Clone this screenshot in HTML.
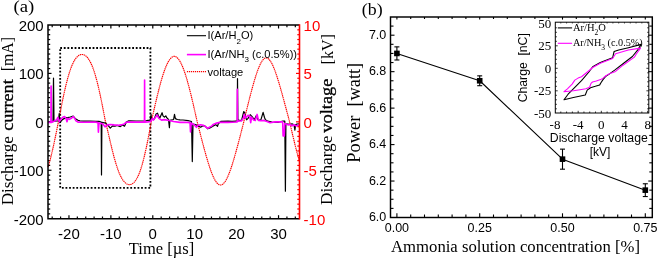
<!DOCTYPE html>
<html><head><meta charset="utf-8"><style>
html,body{margin:0;padding:0;background:#fff;overflow:hidden;}
svg{display:block;will-change:transform;}
</style></head><body>
<svg width="660" height="261" viewBox="0 0 660 261">
<rect width="660" height="261" fill="#fff"/>
<line x1="52.19" y1="218.7" x2="52.19" y2="216.5" stroke="#000" stroke-width="1.2" />
<line x1="52.19" y1="25" x2="52.19" y2="27.2" stroke="#000" stroke-width="1.2" />
<line x1="60.58" y1="218.7" x2="60.58" y2="216.5" stroke="#000" stroke-width="1.2" />
<line x1="60.58" y1="25" x2="60.58" y2="27.2" stroke="#000" stroke-width="1.2" />
<line x1="68.96" y1="218.7" x2="68.96" y2="215.2" stroke="#000" stroke-width="1.2" />
<line x1="68.96" y1="25" x2="68.96" y2="28.5" stroke="#000" stroke-width="1.2" />
<line x1="77.34" y1="218.7" x2="77.34" y2="216.5" stroke="#000" stroke-width="1.2" />
<line x1="77.34" y1="25" x2="77.34" y2="27.2" stroke="#000" stroke-width="1.2" />
<line x1="85.72" y1="218.7" x2="85.72" y2="216.5" stroke="#000" stroke-width="1.2" />
<line x1="85.72" y1="25" x2="85.72" y2="27.2" stroke="#000" stroke-width="1.2" />
<line x1="94.11" y1="218.7" x2="94.11" y2="216.5" stroke="#000" stroke-width="1.2" />
<line x1="94.11" y1="25" x2="94.11" y2="27.2" stroke="#000" stroke-width="1.2" />
<line x1="102.49" y1="218.7" x2="102.49" y2="216.5" stroke="#000" stroke-width="1.2" />
<line x1="102.49" y1="25" x2="102.49" y2="27.2" stroke="#000" stroke-width="1.2" />
<line x1="110.88" y1="218.7" x2="110.88" y2="215.2" stroke="#000" stroke-width="1.2" />
<line x1="110.88" y1="25" x2="110.88" y2="28.5" stroke="#000" stroke-width="1.2" />
<line x1="119.26" y1="218.7" x2="119.26" y2="216.5" stroke="#000" stroke-width="1.2" />
<line x1="119.26" y1="25" x2="119.26" y2="27.2" stroke="#000" stroke-width="1.2" />
<line x1="127.64" y1="218.7" x2="127.64" y2="216.5" stroke="#000" stroke-width="1.2" />
<line x1="127.64" y1="25" x2="127.64" y2="27.2" stroke="#000" stroke-width="1.2" />
<line x1="136.03" y1="218.7" x2="136.03" y2="216.5" stroke="#000" stroke-width="1.2" />
<line x1="136.03" y1="25" x2="136.03" y2="27.2" stroke="#000" stroke-width="1.2" />
<line x1="144.41" y1="218.7" x2="144.41" y2="216.5" stroke="#000" stroke-width="1.2" />
<line x1="144.41" y1="25" x2="144.41" y2="27.2" stroke="#000" stroke-width="1.2" />
<line x1="152.79" y1="218.7" x2="152.79" y2="215.2" stroke="#000" stroke-width="1.2" />
<line x1="152.79" y1="25" x2="152.79" y2="28.5" stroke="#000" stroke-width="1.2" />
<line x1="161.18" y1="218.7" x2="161.18" y2="216.5" stroke="#000" stroke-width="1.2" />
<line x1="161.18" y1="25" x2="161.18" y2="27.2" stroke="#000" stroke-width="1.2" />
<line x1="169.56" y1="218.7" x2="169.56" y2="216.5" stroke="#000" stroke-width="1.2" />
<line x1="169.56" y1="25" x2="169.56" y2="27.2" stroke="#000" stroke-width="1.2" />
<line x1="177.94" y1="218.7" x2="177.94" y2="216.5" stroke="#000" stroke-width="1.2" />
<line x1="177.94" y1="25" x2="177.94" y2="27.2" stroke="#000" stroke-width="1.2" />
<line x1="186.32" y1="218.7" x2="186.32" y2="216.5" stroke="#000" stroke-width="1.2" />
<line x1="186.32" y1="25" x2="186.32" y2="27.2" stroke="#000" stroke-width="1.2" />
<line x1="194.71" y1="218.7" x2="194.71" y2="215.2" stroke="#000" stroke-width="1.2" />
<line x1="194.71" y1="25" x2="194.71" y2="28.5" stroke="#000" stroke-width="1.2" />
<line x1="203.09" y1="218.7" x2="203.09" y2="216.5" stroke="#000" stroke-width="1.2" />
<line x1="203.09" y1="25" x2="203.09" y2="27.2" stroke="#000" stroke-width="1.2" />
<line x1="211.47" y1="218.7" x2="211.47" y2="216.5" stroke="#000" stroke-width="1.2" />
<line x1="211.47" y1="25" x2="211.47" y2="27.2" stroke="#000" stroke-width="1.2" />
<line x1="219.86" y1="218.7" x2="219.86" y2="216.5" stroke="#000" stroke-width="1.2" />
<line x1="219.86" y1="25" x2="219.86" y2="27.2" stroke="#000" stroke-width="1.2" />
<line x1="228.24" y1="218.7" x2="228.24" y2="216.5" stroke="#000" stroke-width="1.2" />
<line x1="228.24" y1="25" x2="228.24" y2="27.2" stroke="#000" stroke-width="1.2" />
<line x1="236.62" y1="218.7" x2="236.62" y2="215.2" stroke="#000" stroke-width="1.2" />
<line x1="236.62" y1="25" x2="236.62" y2="28.5" stroke="#000" stroke-width="1.2" />
<line x1="245.01" y1="218.7" x2="245.01" y2="216.5" stroke="#000" stroke-width="1.2" />
<line x1="245.01" y1="25" x2="245.01" y2="27.2" stroke="#000" stroke-width="1.2" />
<line x1="253.39" y1="218.7" x2="253.39" y2="216.5" stroke="#000" stroke-width="1.2" />
<line x1="253.39" y1="25" x2="253.39" y2="27.2" stroke="#000" stroke-width="1.2" />
<line x1="261.77" y1="218.7" x2="261.77" y2="216.5" stroke="#000" stroke-width="1.2" />
<line x1="261.77" y1="25" x2="261.77" y2="27.2" stroke="#000" stroke-width="1.2" />
<line x1="270.16" y1="218.7" x2="270.16" y2="216.5" stroke="#000" stroke-width="1.2" />
<line x1="270.16" y1="25" x2="270.16" y2="27.2" stroke="#000" stroke-width="1.2" />
<line x1="278.54" y1="218.7" x2="278.54" y2="215.2" stroke="#000" stroke-width="1.2" />
<line x1="278.54" y1="25" x2="278.54" y2="28.5" stroke="#000" stroke-width="1.2" />
<line x1="286.93" y1="218.7" x2="286.93" y2="216.5" stroke="#000" stroke-width="1.2" />
<line x1="286.93" y1="25" x2="286.93" y2="27.2" stroke="#000" stroke-width="1.2" />
<line x1="295.31" y1="218.7" x2="295.31" y2="216.5" stroke="#000" stroke-width="1.2" />
<line x1="295.31" y1="25" x2="295.31" y2="27.2" stroke="#000" stroke-width="1.2" />
<line x1="48" y1="213.86" x2="50.2" y2="213.86" stroke="#000" stroke-width="1.2" />
<line x1="48" y1="209.01" x2="50.2" y2="209.01" stroke="#000" stroke-width="1.2" />
<line x1="48" y1="204.17" x2="50.2" y2="204.17" stroke="#000" stroke-width="1.2" />
<line x1="48" y1="199.33" x2="50.2" y2="199.33" stroke="#000" stroke-width="1.2" />
<line x1="48" y1="194.49" x2="50.2" y2="194.49" stroke="#000" stroke-width="1.2" />
<line x1="48" y1="189.64" x2="50.2" y2="189.64" stroke="#000" stroke-width="1.2" />
<line x1="48" y1="184.8" x2="50.2" y2="184.8" stroke="#000" stroke-width="1.2" />
<line x1="48" y1="179.96" x2="50.2" y2="179.96" stroke="#000" stroke-width="1.2" />
<line x1="48" y1="175.12" x2="50.2" y2="175.12" stroke="#000" stroke-width="1.2" />
<line x1="48" y1="170.27" x2="51.5" y2="170.27" stroke="#000" stroke-width="1.2" />
<line x1="48" y1="165.43" x2="50.2" y2="165.43" stroke="#000" stroke-width="1.2" />
<line x1="48" y1="160.59" x2="50.2" y2="160.59" stroke="#000" stroke-width="1.2" />
<line x1="48" y1="155.75" x2="50.2" y2="155.75" stroke="#000" stroke-width="1.2" />
<line x1="48" y1="150.91" x2="50.2" y2="150.91" stroke="#000" stroke-width="1.2" />
<line x1="48" y1="146.06" x2="50.2" y2="146.06" stroke="#000" stroke-width="1.2" />
<line x1="48" y1="141.22" x2="50.2" y2="141.22" stroke="#000" stroke-width="1.2" />
<line x1="48" y1="136.38" x2="50.2" y2="136.38" stroke="#000" stroke-width="1.2" />
<line x1="48" y1="131.53" x2="50.2" y2="131.53" stroke="#000" stroke-width="1.2" />
<line x1="48" y1="126.69" x2="50.2" y2="126.69" stroke="#000" stroke-width="1.2" />
<line x1="48" y1="121.85" x2="51.5" y2="121.85" stroke="#000" stroke-width="1.2" />
<line x1="48" y1="117.01" x2="50.2" y2="117.01" stroke="#000" stroke-width="1.2" />
<line x1="48" y1="112.16" x2="50.2" y2="112.16" stroke="#000" stroke-width="1.2" />
<line x1="48" y1="107.32" x2="50.2" y2="107.32" stroke="#000" stroke-width="1.2" />
<line x1="48" y1="102.48" x2="50.2" y2="102.48" stroke="#000" stroke-width="1.2" />
<line x1="48" y1="97.64" x2="50.2" y2="97.64" stroke="#000" stroke-width="1.2" />
<line x1="48" y1="92.79" x2="50.2" y2="92.79" stroke="#000" stroke-width="1.2" />
<line x1="48" y1="87.95" x2="50.2" y2="87.95" stroke="#000" stroke-width="1.2" />
<line x1="48" y1="83.11" x2="50.2" y2="83.11" stroke="#000" stroke-width="1.2" />
<line x1="48" y1="78.27" x2="50.2" y2="78.27" stroke="#000" stroke-width="1.2" />
<line x1="48" y1="73.42" x2="51.5" y2="73.42" stroke="#000" stroke-width="1.2" />
<line x1="48" y1="68.58" x2="50.2" y2="68.58" stroke="#000" stroke-width="1.2" />
<line x1="48" y1="63.74" x2="50.2" y2="63.74" stroke="#000" stroke-width="1.2" />
<line x1="48" y1="58.9" x2="50.2" y2="58.9" stroke="#000" stroke-width="1.2" />
<line x1="48" y1="54.05" x2="50.2" y2="54.05" stroke="#000" stroke-width="1.2" />
<line x1="48" y1="49.21" x2="50.2" y2="49.21" stroke="#000" stroke-width="1.2" />
<line x1="48" y1="44.37" x2="50.2" y2="44.37" stroke="#000" stroke-width="1.2" />
<line x1="48" y1="39.53" x2="50.2" y2="39.53" stroke="#000" stroke-width="1.2" />
<line x1="48" y1="34.68" x2="50.2" y2="34.68" stroke="#000" stroke-width="1.2" />
<line x1="48" y1="29.84" x2="50.2" y2="29.84" stroke="#000" stroke-width="1.2" />
<line x1="299.5" y1="213.86" x2="297.3" y2="213.86" stroke="#f00" stroke-width="1.2" />
<line x1="299.5" y1="209.01" x2="297.3" y2="209.01" stroke="#f00" stroke-width="1.2" />
<line x1="299.5" y1="204.17" x2="297.3" y2="204.17" stroke="#f00" stroke-width="1.2" />
<line x1="299.5" y1="199.33" x2="297.3" y2="199.33" stroke="#f00" stroke-width="1.2" />
<line x1="299.5" y1="194.49" x2="297.3" y2="194.49" stroke="#f00" stroke-width="1.2" />
<line x1="299.5" y1="189.64" x2="297.3" y2="189.64" stroke="#f00" stroke-width="1.2" />
<line x1="299.5" y1="184.8" x2="297.3" y2="184.8" stroke="#f00" stroke-width="1.2" />
<line x1="299.5" y1="179.96" x2="297.3" y2="179.96" stroke="#f00" stroke-width="1.2" />
<line x1="299.5" y1="175.12" x2="297.3" y2="175.12" stroke="#f00" stroke-width="1.2" />
<line x1="299.5" y1="170.27" x2="296" y2="170.27" stroke="#f00" stroke-width="1.2" />
<line x1="299.5" y1="165.43" x2="297.3" y2="165.43" stroke="#f00" stroke-width="1.2" />
<line x1="299.5" y1="160.59" x2="297.3" y2="160.59" stroke="#f00" stroke-width="1.2" />
<line x1="299.5" y1="155.75" x2="297.3" y2="155.75" stroke="#f00" stroke-width="1.2" />
<line x1="299.5" y1="150.91" x2="297.3" y2="150.91" stroke="#f00" stroke-width="1.2" />
<line x1="299.5" y1="146.06" x2="297.3" y2="146.06" stroke="#f00" stroke-width="1.2" />
<line x1="299.5" y1="141.22" x2="297.3" y2="141.22" stroke="#f00" stroke-width="1.2" />
<line x1="299.5" y1="136.38" x2="297.3" y2="136.38" stroke="#f00" stroke-width="1.2" />
<line x1="299.5" y1="131.53" x2="297.3" y2="131.53" stroke="#f00" stroke-width="1.2" />
<line x1="299.5" y1="126.69" x2="297.3" y2="126.69" stroke="#f00" stroke-width="1.2" />
<line x1="299.5" y1="121.85" x2="296" y2="121.85" stroke="#f00" stroke-width="1.2" />
<line x1="299.5" y1="117.01" x2="297.3" y2="117.01" stroke="#f00" stroke-width="1.2" />
<line x1="299.5" y1="112.16" x2="297.3" y2="112.16" stroke="#f00" stroke-width="1.2" />
<line x1="299.5" y1="107.32" x2="297.3" y2="107.32" stroke="#f00" stroke-width="1.2" />
<line x1="299.5" y1="102.48" x2="297.3" y2="102.48" stroke="#f00" stroke-width="1.2" />
<line x1="299.5" y1="97.64" x2="297.3" y2="97.64" stroke="#f00" stroke-width="1.2" />
<line x1="299.5" y1="92.8" x2="297.3" y2="92.8" stroke="#f00" stroke-width="1.2" />
<line x1="299.5" y1="87.95" x2="297.3" y2="87.95" stroke="#f00" stroke-width="1.2" />
<line x1="299.5" y1="83.11" x2="297.3" y2="83.11" stroke="#f00" stroke-width="1.2" />
<line x1="299.5" y1="78.27" x2="297.3" y2="78.27" stroke="#f00" stroke-width="1.2" />
<line x1="299.5" y1="73.42" x2="296" y2="73.42" stroke="#f00" stroke-width="1.2" />
<line x1="299.5" y1="68.58" x2="297.3" y2="68.58" stroke="#f00" stroke-width="1.2" />
<line x1="299.5" y1="63.74" x2="297.3" y2="63.74" stroke="#f00" stroke-width="1.2" />
<line x1="299.5" y1="58.9" x2="297.3" y2="58.9" stroke="#f00" stroke-width="1.2" />
<line x1="299.5" y1="54.06" x2="297.3" y2="54.06" stroke="#f00" stroke-width="1.2" />
<line x1="299.5" y1="49.21" x2="297.3" y2="49.21" stroke="#f00" stroke-width="1.2" />
<line x1="299.5" y1="44.37" x2="297.3" y2="44.37" stroke="#f00" stroke-width="1.2" />
<line x1="299.5" y1="39.53" x2="297.3" y2="39.53" stroke="#f00" stroke-width="1.2" />
<line x1="299.5" y1="34.69" x2="297.3" y2="34.69" stroke="#f00" stroke-width="1.2" />
<line x1="299.5" y1="29.84" x2="297.3" y2="29.84" stroke="#f00" stroke-width="1.2" />
<rect x="60.2" y="48" width="90.2" height="139.9" fill="none" stroke="#000" stroke-width="1.8" stroke-dasharray="1.8 1.8"/>
<polyline points="48,167.17 48.5,165.54 49.01,163.85 49.51,162.08 50.01,160.24 50.52,158.33 51.02,156.35 51.52,154.32 52.02,152.21 52.53,150.05 53.03,147.84 53.53,145.57 54.04,143.26 54.54,140.9 55.04,138.5 55.55,136.07 56.05,133.61 56.55,131.12 57.05,128.61 57.56,126.09 58.06,123.56 58.56,121 59.07,118.36 59.57,115.73 60.07,113.11 60.58,110.52 61.08,107.94 61.58,105.39 62.08,102.88 62.59,100.41 63.09,97.98 63.59,95.59 64.1,93.26 64.6,90.98 65.1,88.76 65.61,86.6 66.11,84.51 66.61,82.49 67.11,80.53 67.62,78.65 68.12,76.84 68.62,75.1 69.13,73.44 69.63,71.85 70.13,70.34 70.64,68.9 71.14,67.55 71.64,66.26 72.14,65.05 72.65,63.92 73.15,62.86 73.65,61.86 74.16,60.94 74.66,60.09 75.16,59.3 75.66,58.58 76.17,57.92 76.67,57.32 77.17,56.79 77.68,56.31 78.18,55.89 78.68,55.52 79.19,55.21 79.69,54.96 80.19,54.75 80.69,54.6 81.2,54.5 81.7,54.45 82.2,54.45 82.71,54.5 83.21,54.6 83.71,54.75 84.22,54.96 84.72,55.22 85.22,55.53 85.72,55.89 86.23,56.31 86.73,56.79 87.23,57.33 87.74,57.93 88.24,58.59 88.74,59.31 89.25,60.1 89.75,60.95 90.25,61.87 90.75,62.87 91.26,63.93 91.76,65.07 92.26,66.28 92.77,67.56 93.27,68.92 93.77,70.35 94.28,71.86 94.78,73.45 95.28,75.11 95.78,76.85 96.29,78.66 96.79,80.55 97.29,82.51 97.8,84.53 98.3,86.63 98.8,88.78 99.31,91 99.81,93.28 100.31,95.61 100.81,98 101.32,100.43 101.82,102.91 102.32,105.42 102.83,107.97 103.33,110.54 103.83,113.14 104.34,115.76 104.84,118.38 105.34,121.02 105.84,123.08 106.35,125.07 106.85,127.14 107.35,129.27 107.86,131.42 108.36,133.58 108.86,135.76 109.37,137.93 109.87,140.1 110.37,142.25 110.88,144.38 111.38,146.48 111.88,148.56 112.38,150.59 112.89,152.59 113.39,154.54 113.89,156.45 114.4,158.3 114.9,160.1 115.4,161.84 115.91,163.52 116.41,165.13 116.91,166.69 117.41,168.17 117.92,169.6 118.42,170.95 118.92,172.24 119.43,173.45 119.93,174.6 120.43,175.68 120.94,176.7 121.44,177.65 121.94,178.53 122.44,179.34 122.95,180.1 123.45,180.79 123.95,181.42 124.46,181.98 124.96,182.49 125.46,182.95 125.97,183.34 126.47,183.68 126.97,183.97 127.47,184.2 127.98,184.38 128.48,184.51 128.98,184.59 129.49,184.61 129.99,184.58 130.49,184.5 131,184.37 131.5,184.18 132,183.93 132.5,183.64 133.01,183.28 133.51,182.86 134.01,182.39 134.52,181.85 135.02,181.25 135.52,180.58 136.03,179.84 136.53,179.03 137.03,178.15 137.53,177.19 138.04,176.16 138.54,175.04 139.04,173.85 139.55,172.58 140.05,171.22 140.55,169.78 141.06,168.26 141.56,166.65 142.06,164.96 142.56,163.18 143.07,161.32 143.57,159.38 144.07,157.36 144.58,155.27 145.08,153.1 145.58,150.86 146.08,148.55 146.59,146.18 147.09,143.75 147.59,141.26 148.1,138.73 148.6,136.16 149.1,133.54 149.61,130.9 150.11,128.23 150.61,125.54 151.12,122.84 151.62,120.43 152.12,118.17 152.62,115.93 153.13,113.68 153.63,111.45 154.13,109.23 154.64,107.03 155.14,104.84 155.64,102.68 156.14,100.53 156.65,98.42 157.15,96.33 157.65,94.27 158.16,92.24 158.66,90.25 159.16,88.29 159.67,86.38 160.17,84.5 160.67,82.67 161.18,80.89 161.68,79.16 162.18,77.48 162.68,75.84 163.19,74.27 163.69,72.75 164.19,71.29 164.7,69.89 165.2,68.55 165.7,67.27 166.2,66.06 166.71,64.91 167.21,63.83 167.71,62.82 168.22,61.88 168.72,61.01 169.22,60.22 169.73,59.49 170.23,58.84 170.73,58.27 171.24,57.77 171.74,57.34 172.24,57 172.74,56.73 173.25,56.53 173.75,56.42 174.25,56.38 174.76,56.42 175.26,56.54 175.76,56.73 176.26,57 176.77,57.35 177.27,57.77 177.77,58.27 178.28,58.85 178.78,59.5 179.28,60.23 179.79,61.02 180.29,61.89 180.79,62.83 181.29,63.84 181.8,64.92 182.3,66.07 182.8,67.28 183.31,68.56 183.81,69.9 184.31,71.3 184.82,72.77 185.32,74.29 185.82,75.86 186.32,77.49 186.83,79.18 187.33,80.91 187.83,82.7 188.34,84.53 188.84,86.4 189.34,88.31 189.85,90.27 190.35,92.26 190.85,94.29 191.35,96.35 191.86,98.44 192.36,100.56 192.86,102.7 193.37,104.87 193.87,107.06 194.37,109.26 194.88,111.48 195.38,113.71 195.88,115.95 196.38,118.2 196.89,120.45 197.39,122.6 197.89,124.57 198.4,126.54 198.9,128.51 199.4,130.48 199.91,132.44 200.41,134.39 200.91,136.34 201.41,138.27 201.92,140.2 202.42,142.12 202.92,144.02 203.43,145.9 203.93,147.77 204.43,149.62 204.94,151.45 205.44,153.26 205.94,155.05 206.44,156.8 206.95,158.53 207.45,160.22 207.95,161.88 208.46,163.51 208.96,165.09 209.46,166.64 209.97,168.13 210.47,169.59 210.97,170.99 211.47,172.34 211.98,173.63 212.48,174.87 212.98,176.04 213.49,177.15 213.99,178.2 214.49,179.18 215,180.09 215.5,180.93 216,181.69 216.5,182.38 217.01,182.99 217.51,183.52 218.01,183.98 218.52,184.35 219.02,184.63 219.52,184.84 220.03,184.96 220.53,185 221.03,184.95 221.53,184.82 222.04,184.6 222.54,184.31 223.04,183.93 223.55,183.47 224.05,182.93 224.55,182.31 225.06,181.61 225.56,180.84 226.06,179.99 226.56,179.07 227.07,178.08 227.57,177.03 228.07,175.91 228.58,174.73 229.08,173.48 229.58,172.18 230.09,170.83 230.59,169.42 231.09,167.96 231.59,166.46 232.1,164.91 232.6,163.32 233.1,161.69 233.61,160.03 234.11,158.33 234.61,156.6 235.12,154.84 235.62,153.06 236.12,151.25 236.62,149.41 237.13,147.56 237.63,145.69 238.13,143.8 238.64,141.9 239.14,139.98 239.64,138.05 240.15,136.11 240.65,134.17 241.15,132.21 241.66,130.25 242.16,128.29 242.66,126.32 243.16,124.34 243.67,122.37 244.17,120.19 244.67,118.04 245.18,115.93 245.68,113.85 246.18,111.78 246.69,109.73 247.19,107.69 247.69,105.67 248.19,103.67 248.7,101.67 249.2,99.7 249.7,97.74 250.21,95.79 250.71,93.87 251.21,91.96 251.72,90.08 252.22,88.23 252.72,86.4 253.22,84.6 253.73,82.83 254.23,81.1 254.73,79.41 255.24,77.75 255.74,76.14 256.24,74.58 256.75,73.07 257.25,71.62 257.75,70.22 258.25,68.88 258.76,67.61 259.26,66.4 259.76,65.26 260.27,64.2 260.77,63.21 261.27,62.3 261.77,61.47 262.28,60.72 262.78,60.06 263.28,59.49 263.79,59 264.29,58.6 264.79,58.3 265.3,58.08 265.8,57.96 266.3,57.93 266.81,57.99 267.31,58.15 267.81,58.39 268.31,58.73 268.82,59.15 269.32,59.66 269.82,60.26 270.33,60.94 270.83,61.7 271.33,62.54 271.84,63.46 272.34,64.45 272.84,65.52 273.34,66.65 273.85,67.85 274.35,69.1 274.85,70.42 275.36,71.79 275.86,73.22 276.36,74.69 276.87,76.21 277.37,77.77 277.87,79.37 278.37,81 278.88,82.67 279.38,84.36 279.88,86.09 280.39,87.83 280.89,89.6 281.39,91.39 281.89,93.2 282.4,95.02 282.9,96.85 283.4,98.69 283.91,100.55 284.41,102.41 284.91,104.28 285.42,106.15 285.92,108.03 286.42,109.92 286.93,111.8 287.43,113.69 287.93,115.58 288.43,117.47 288.94,119.36 289.44,121.25 289.94,123.33 290.45,125.5 290.95,127.67 291.45,129.83 291.96,131.98 292.46,134.12 292.96,136.24 293.46,138.35 293.97,140.44 294.47,142.5 294.97,144.55 295.48,146.56 295.98,148.55 296.48,150.51 296.99,152.44 297.49,154.33 297.99,156.18 298.49,157.99 299,159.76 299.5,161.49" fill="none" stroke="#f00" stroke-width="1.15" stroke-linejoin="round" stroke-dasharray="1.4 0.6"/>
<polyline points="48,121.6 50.5,121.6 53,121.6 53.5,78 54,121.2 57,121 58.5,120.8 59.2,113.6 59.8,122.7 62.7,119.4 65.5,117.9 68.4,117.4 70.3,117 73.2,116 75.1,118.4 78,120.3 79.9,120.8 83.7,121.2 90,121.2 96,121.3 99,121.4 101.2,122 101.5,175 101.9,122.3 105.7,123.1 108,125.4 110.3,128.1 112.6,125.8 114.9,126.2 117.2,125.4 120.3,126.6 122.6,125 124.5,126.2 126.4,122 128.7,120.8 130,120.8 136,121 142,121 144,121 145,121 148,120.3 150.1,120 151.1,114.5 151.5,119.6 154.3,119 156.1,114 157.5,113.2 158.4,115.8 159.8,118.1 162.1,112.7 163,115.8 164.4,117.2 165.8,115.8 166.7,117.7 168.5,119.5 169.4,127.7 169.9,120.4 173.6,119.5 174.5,114.4 175.4,118.6 177.3,119.5 180,119.9 183,120 188,120.6 191.5,121.5 192.3,161.6 193,124 195.5,124.5 198.1,125.9 200.6,127.2 202.5,126 204.8,125.9 207.8,128.8 209.9,128 213.3,125.9 215.8,124.6 217.5,126.3 218.3,123.8 220.8,121.3 228,121.1 232,121.3 236,121.2 237.3,120.5 237.5,78.5 237.9,120 238.8,120.2 241.5,120.7 243.8,111.5 244.7,112.9 245.2,116.6 246.6,119.8 248,118.4 250.2,114.7 252.1,116.6 254.4,119.8 256.2,115.7 258.1,119.8 260.8,120.2 263.1,112.4 264.5,117.5 265.4,119.8 267.7,121.2 270,121.6 272,122 278,122.3 283,121 284.8,121.2 285.4,191.2 285.9,123.8 288,124 290,124.3 292,123.8 294,124.8 294.9,130.2 295.6,124.8 297,124 299,123.8" fill="none" stroke="#000" stroke-width="1.2" stroke-linejoin="round" transform="translate(0 0)"/>
<polyline points="48,121.8 50.95,121.8 51.1,85.4 51.25,121.8 55,120.2 56.9,118.8 57.9,116.8 59.3,121.1 60.7,118.8 63.1,116.4 64.6,115.9 66,117.8 67,121.1 67.9,117.8 69.4,118.8 71.3,117.8 73.2,115.9 74.6,117.8 76,120.2 78,121.6 83.7,121.6 95,121.4 98,122 98.4,131.5 99,122.5 102.7,123.1 105,126.2 107.3,124.3 110.3,123.9 114.2,124.3 118,124.6 121,124.3 124.1,123.5 126,121.6 128,121.4 135,121.5 144.45,121.5 144.6,79.5 144.75,121.5 148,121.3 150.6,120.9 152.4,117.7 153.4,119.5 155.2,117.2 157,114.4 158.9,117.7 161.6,119.5 164.4,119 169,119.9 173.6,120.9 180,121.8 185,121.6 190,122 190.5,131.4 191.2,122.5 194.7,124.6 196.4,126.7 198.1,124.6 200.6,124.2 203.2,124.6 205.7,126.3 207.8,127.6 209.9,126.3 211.6,125.5 213.3,123.8 216.6,122.5 220,121.7 228,121.8 237.2,121.4 237.35,88.7 237.5,120.8 238,120.5 241.5,120.2 243.4,117.5 244.3,113.8 245.2,117.5 248,114.7 249.8,115.7 250.7,122.1 251.6,116.6 253.5,119.3 255.3,119.8 257.1,113.8 258.5,119.8 260.8,120.2 263.6,119.8 266.3,120.7 270,122.1 275,121.3 282.7,121.3 283.1,135.3 284.3,135.3 284.8,123 286,123.3 288,124.3 290,123.8 292,125.3 294,124.1 296,125.3 299,124.3" fill="none" stroke="#f0f" stroke-width="1.6" stroke-linejoin="round" transform="translate(0 0.6)"/>
<path d="M299.5,25.0 H48.0 V218.7 H299.5" fill="none" stroke="#000" stroke-width="1.5"/>
<line x1="299.5" y1="24.25" x2="299.5" y2="219.45" stroke="#f00" stroke-width="1.6" />
<line x1="186.9" y1="35.7" x2="206" y2="35.7" stroke="#000" stroke-width="1.1" />
<line x1="186.9" y1="54.6" x2="206" y2="54.6" stroke="#f0f" stroke-width="1.6" />
<line x1="186.9" y1="71.7" x2="206" y2="71.7" stroke="#f00" stroke-width="1.2" stroke-dasharray="1.2 0.8"/>
<text x="207.5" y="39.3" font-family="'Liberation Sans', sans-serif" font-size="11.1" fill="#000" >I(Ar/H<tspan font-size="8" dy="4.5">2</tspan><tspan dy="-4.5">O)</tspan></text>
<text x="207.5" y="57.9" font-family="'Liberation Sans', sans-serif" font-size="11.1" fill="#000" >I(Ar/NH<tspan font-size="8" dy="4.5">3</tspan><tspan dy="-4.5"> (c.0.5%))</tspan></text>
<text x="207.5" y="75.5" font-family="'Liberation Sans', sans-serif" font-size="11.1" fill="#000" >voltage</text>
<text x="43.7" y="31" font-family="'Liberation Sans', sans-serif" font-size="15" fill="#000" text-anchor="end" >200</text>
<text x="43.7" y="79.42" font-family="'Liberation Sans', sans-serif" font-size="15" fill="#000" text-anchor="end" >100</text>
<text x="43.7" y="127.85" font-family="'Liberation Sans', sans-serif" font-size="15" fill="#000" text-anchor="end" >0</text>
<text x="43.7" y="176.27" font-family="'Liberation Sans', sans-serif" font-size="15" fill="#000" text-anchor="end" >-100</text>
<text x="43.7" y="224.7" font-family="'Liberation Sans', sans-serif" font-size="15" fill="#000" text-anchor="end" >-200</text>
<text x="303.6" y="31" font-family="'Liberation Sans', sans-serif" font-size="15" fill="#f00" >10</text>
<text x="303.6" y="79.42" font-family="'Liberation Sans', sans-serif" font-size="15" fill="#f00" >5</text>
<text x="303.6" y="127.85" font-family="'Liberation Sans', sans-serif" font-size="15" fill="#f00" >0</text>
<text x="303.6" y="176.27" font-family="'Liberation Sans', sans-serif" font-size="15" fill="#f00" >-5</text>
<text x="303.6" y="224.7" font-family="'Liberation Sans', sans-serif" font-size="15" fill="#f00" >-10</text>
<text x="68.96" y="238.7" font-family="'Liberation Sans', sans-serif" font-size="15" fill="#000" text-anchor="middle" >-20</text>
<text x="110.88" y="238.7" font-family="'Liberation Sans', sans-serif" font-size="15" fill="#000" text-anchor="middle" >-10</text>
<text x="152.79" y="238.7" font-family="'Liberation Sans', sans-serif" font-size="15" fill="#000" text-anchor="middle" >0</text>
<text x="194.71" y="238.7" font-family="'Liberation Sans', sans-serif" font-size="15" fill="#000" text-anchor="middle" >10</text>
<text x="236.62" y="238.7" font-family="'Liberation Sans', sans-serif" font-size="15" fill="#000" text-anchor="middle" >20</text>
<text x="278.54" y="238.7" font-family="'Liberation Sans', sans-serif" font-size="15" fill="#000" text-anchor="middle" >30</text>
<text x="161.5" y="253.9" font-family="'Liberation Serif', serif" font-size="16.5" fill="#000" text-anchor="middle" >Time [µs]</text>
<text x="13.2" y="170.75" font-family="'Liberation Serif', serif" font-size="16" fill="#000" text-anchor="middle" textLength="69.2" lengthAdjust="spacingAndGlyphs" transform="rotate(-90 13.2 170.75)" >Discharge</text>
<text x="13.2" y="105.05" font-family="'Liberation Serif', serif" font-size="16.5" fill="#000" text-anchor="middle" textLength="51.5" lengthAdjust="spacingAndGlyphs" transform="rotate(-90 13.2 105.05)" stroke="#000" stroke-width="0.3">current</text>
<text x="13.2" y="54.1" font-family="'Liberation Serif', serif" font-size="16" fill="#000" text-anchor="middle" textLength="34.3" lengthAdjust="spacingAndGlyphs" transform="rotate(-90 13.2 54.1)" >[mA]</text>
<text x="332.5" y="170.35" font-family="'Liberation Serif', serif" font-size="16.2" fill="#000" text-anchor="middle" textLength="69.2" lengthAdjust="spacingAndGlyphs" transform="rotate(-90 332.5 170.35)" >Discharge</text>
<text x="332.5" y="105.6" font-family="'Liberation Serif', serif" font-size="16.5" fill="#000" text-anchor="middle" textLength="54.2" lengthAdjust="spacingAndGlyphs" transform="rotate(-90 332.5 105.6)" stroke="#000" stroke-width="0.3">voltage</text>
<text x="332.7" y="49.25" font-family="'Liberation Serif', serif" font-size="16.2" fill="#000" text-anchor="middle" textLength="30.3" lengthAdjust="spacingAndGlyphs" transform="rotate(-90 332.7 49.25)" >[kV]</text>
<text x="13.4" y="12.2" font-family="'Liberation Serif', serif" font-size="16.5" fill="#000" textLength="20.8" lengthAdjust="spacingAndGlyphs" >(a)</text>
<line x1="396.9" y1="217.5" x2="396.9" y2="213.3" stroke="#000" stroke-width="1.1" />
<line x1="396.9" y1="17" x2="396.9" y2="19.6" stroke="#000" stroke-width="1.1" />
<line x1="410.7" y1="217.5" x2="410.7" y2="214.5" stroke="#000" stroke-width="1.1" />
<line x1="410.7" y1="17" x2="410.7" y2="19" stroke="#000" stroke-width="1.1" />
<line x1="424.5" y1="217.5" x2="424.5" y2="214.5" stroke="#000" stroke-width="1.1" />
<line x1="424.5" y1="17" x2="424.5" y2="19" stroke="#000" stroke-width="1.1" />
<line x1="438.3" y1="217.5" x2="438.3" y2="214.5" stroke="#000" stroke-width="1.1" />
<line x1="438.3" y1="17" x2="438.3" y2="19" stroke="#000" stroke-width="1.1" />
<line x1="452.1" y1="217.5" x2="452.1" y2="214.5" stroke="#000" stroke-width="1.1" />
<line x1="452.1" y1="17" x2="452.1" y2="19" stroke="#000" stroke-width="1.1" />
<line x1="465.9" y1="217.5" x2="465.9" y2="214.5" stroke="#000" stroke-width="1.1" />
<line x1="465.9" y1="17" x2="465.9" y2="19" stroke="#000" stroke-width="1.1" />
<line x1="479.7" y1="217.5" x2="479.7" y2="213.3" stroke="#000" stroke-width="1.1" />
<line x1="479.7" y1="17" x2="479.7" y2="19.6" stroke="#000" stroke-width="1.1" />
<line x1="493.5" y1="217.5" x2="493.5" y2="214.5" stroke="#000" stroke-width="1.1" />
<line x1="493.5" y1="17" x2="493.5" y2="19" stroke="#000" stroke-width="1.1" />
<line x1="507.3" y1="217.5" x2="507.3" y2="214.5" stroke="#000" stroke-width="1.1" />
<line x1="507.3" y1="17" x2="507.3" y2="19" stroke="#000" stroke-width="1.1" />
<line x1="521.1" y1="217.5" x2="521.1" y2="214.5" stroke="#000" stroke-width="1.1" />
<line x1="521.1" y1="17" x2="521.1" y2="19" stroke="#000" stroke-width="1.1" />
<line x1="534.9" y1="217.5" x2="534.9" y2="214.5" stroke="#000" stroke-width="1.1" />
<line x1="534.9" y1="17" x2="534.9" y2="19" stroke="#000" stroke-width="1.1" />
<line x1="548.7" y1="217.5" x2="548.7" y2="214.5" stroke="#000" stroke-width="1.1" />
<line x1="548.7" y1="17" x2="548.7" y2="19" stroke="#000" stroke-width="1.1" />
<line x1="562.5" y1="217.5" x2="562.5" y2="213.3" stroke="#000" stroke-width="1.1" />
<line x1="562.5" y1="17" x2="562.5" y2="19.6" stroke="#000" stroke-width="1.1" />
<line x1="576.3" y1="217.5" x2="576.3" y2="214.5" stroke="#000" stroke-width="1.1" />
<line x1="576.3" y1="17" x2="576.3" y2="19" stroke="#000" stroke-width="1.1" />
<line x1="590.1" y1="217.5" x2="590.1" y2="214.5" stroke="#000" stroke-width="1.1" />
<line x1="590.1" y1="17" x2="590.1" y2="19" stroke="#000" stroke-width="1.1" />
<line x1="603.9" y1="217.5" x2="603.9" y2="214.5" stroke="#000" stroke-width="1.1" />
<line x1="603.9" y1="17" x2="603.9" y2="19" stroke="#000" stroke-width="1.1" />
<line x1="617.7" y1="217.5" x2="617.7" y2="214.5" stroke="#000" stroke-width="1.1" />
<line x1="617.7" y1="17" x2="617.7" y2="19" stroke="#000" stroke-width="1.1" />
<line x1="631.5" y1="217.5" x2="631.5" y2="214.5" stroke="#000" stroke-width="1.1" />
<line x1="631.5" y1="17" x2="631.5" y2="19" stroke="#000" stroke-width="1.1" />
<line x1="645.3" y1="217.5" x2="645.3" y2="213.3" stroke="#000" stroke-width="1.1" />
<line x1="645.3" y1="17" x2="645.3" y2="19.6" stroke="#000" stroke-width="1.1" />
<line x1="390.5" y1="208.39" x2="393.5" y2="208.39" stroke="#000" stroke-width="1.1" />
<line x1="652.3" y1="208.39" x2="649.3" y2="208.39" stroke="#000" stroke-width="1.1" />
<line x1="390.5" y1="199.27" x2="393.5" y2="199.27" stroke="#000" stroke-width="1.1" />
<line x1="652.3" y1="199.27" x2="649.3" y2="199.27" stroke="#000" stroke-width="1.1" />
<line x1="390.5" y1="190.15" x2="393.5" y2="190.15" stroke="#000" stroke-width="1.1" />
<line x1="652.3" y1="190.15" x2="649.3" y2="190.15" stroke="#000" stroke-width="1.1" />
<line x1="390.5" y1="181.04" x2="394.5" y2="181.04" stroke="#000" stroke-width="1.1" />
<line x1="652.3" y1="181.04" x2="648.3" y2="181.04" stroke="#000" stroke-width="1.1" />
<line x1="390.5" y1="171.93" x2="393.5" y2="171.93" stroke="#000" stroke-width="1.1" />
<line x1="652.3" y1="171.93" x2="649.3" y2="171.93" stroke="#000" stroke-width="1.1" />
<line x1="390.5" y1="162.81" x2="393.5" y2="162.81" stroke="#000" stroke-width="1.1" />
<line x1="652.3" y1="162.81" x2="649.3" y2="162.81" stroke="#000" stroke-width="1.1" />
<line x1="390.5" y1="153.7" x2="393.5" y2="153.7" stroke="#000" stroke-width="1.1" />
<line x1="652.3" y1="153.7" x2="649.3" y2="153.7" stroke="#000" stroke-width="1.1" />
<line x1="390.5" y1="144.58" x2="394.5" y2="144.58" stroke="#000" stroke-width="1.1" />
<line x1="652.3" y1="144.58" x2="648.3" y2="144.58" stroke="#000" stroke-width="1.1" />
<line x1="390.5" y1="135.46" x2="393.5" y2="135.46" stroke="#000" stroke-width="1.1" />
<line x1="652.3" y1="135.46" x2="649.3" y2="135.46" stroke="#000" stroke-width="1.1" />
<line x1="390.5" y1="126.35" x2="393.5" y2="126.35" stroke="#000" stroke-width="1.1" />
<line x1="652.3" y1="126.35" x2="649.3" y2="126.35" stroke="#000" stroke-width="1.1" />
<line x1="390.5" y1="117.24" x2="393.5" y2="117.24" stroke="#000" stroke-width="1.1" />
<line x1="652.3" y1="117.24" x2="649.3" y2="117.24" stroke="#000" stroke-width="1.1" />
<line x1="390.5" y1="108.12" x2="394.5" y2="108.12" stroke="#000" stroke-width="1.1" />
<line x1="652.3" y1="108.12" x2="648.3" y2="108.12" stroke="#000" stroke-width="1.1" />
<line x1="390.5" y1="99" x2="393.5" y2="99" stroke="#000" stroke-width="1.1" />
<line x1="652.3" y1="99" x2="649.3" y2="99" stroke="#000" stroke-width="1.1" />
<line x1="390.5" y1="89.89" x2="393.5" y2="89.89" stroke="#000" stroke-width="1.1" />
<line x1="652.3" y1="89.89" x2="649.3" y2="89.89" stroke="#000" stroke-width="1.1" />
<line x1="390.5" y1="80.77" x2="393.5" y2="80.77" stroke="#000" stroke-width="1.1" />
<line x1="652.3" y1="80.77" x2="649.3" y2="80.77" stroke="#000" stroke-width="1.1" />
<line x1="390.5" y1="71.66" x2="394.5" y2="71.66" stroke="#000" stroke-width="1.1" />
<line x1="652.3" y1="71.66" x2="648.3" y2="71.66" stroke="#000" stroke-width="1.1" />
<line x1="390.5" y1="62.55" x2="393.5" y2="62.55" stroke="#000" stroke-width="1.1" />
<line x1="652.3" y1="62.55" x2="649.3" y2="62.55" stroke="#000" stroke-width="1.1" />
<line x1="390.5" y1="53.43" x2="393.5" y2="53.43" stroke="#000" stroke-width="1.1" />
<line x1="652.3" y1="53.43" x2="649.3" y2="53.43" stroke="#000" stroke-width="1.1" />
<line x1="390.5" y1="44.31" x2="393.5" y2="44.31" stroke="#000" stroke-width="1.1" />
<line x1="652.3" y1="44.31" x2="649.3" y2="44.31" stroke="#000" stroke-width="1.1" />
<line x1="390.5" y1="35.2" x2="394.5" y2="35.2" stroke="#000" stroke-width="1.1" />
<line x1="652.3" y1="35.2" x2="648.3" y2="35.2" stroke="#000" stroke-width="1.1" />
<line x1="390.5" y1="26.09" x2="393.5" y2="26.09" stroke="#000" stroke-width="1.1" />
<line x1="652.3" y1="26.09" x2="649.3" y2="26.09" stroke="#000" stroke-width="1.1" />
<polyline points="396.9,53.43 479.7,80.77 562.5,159.16 645.3,190.15" fill="none" stroke="#000" stroke-width="1.1" stroke-linejoin="round" />
<line x1="396.9" y1="46.87" x2="396.9" y2="59.99" stroke="#000" stroke-width="1.1" />
<line x1="394.4" y1="46.87" x2="399.4" y2="46.87" stroke="#000" stroke-width="1.1" />
<line x1="394.4" y1="59.99" x2="399.4" y2="59.99" stroke="#000" stroke-width="1.1" />
<rect x="394.1" y="50.63" width="5.6" height="5.6" fill="#000"/>
<line x1="479.7" y1="75.85" x2="479.7" y2="85.7" stroke="#000" stroke-width="1.1" />
<line x1="477.2" y1="75.85" x2="482.2" y2="75.85" stroke="#000" stroke-width="1.1" />
<line x1="477.2" y1="85.7" x2="482.2" y2="85.7" stroke="#000" stroke-width="1.1" />
<rect x="476.9" y="77.97" width="5.6" height="5.6" fill="#000"/>
<line x1="562.5" y1="149.14" x2="562.5" y2="169.19" stroke="#000" stroke-width="1.1" />
<line x1="560" y1="149.14" x2="565" y2="149.14" stroke="#000" stroke-width="1.1" />
<line x1="560" y1="169.19" x2="565" y2="169.19" stroke="#000" stroke-width="1.1" />
<rect x="559.7" y="156.36" width="5.6" height="5.6" fill="#000"/>
<line x1="645.3" y1="183.77" x2="645.3" y2="196.54" stroke="#000" stroke-width="1.1" />
<line x1="642.8" y1="183.77" x2="647.8" y2="183.77" stroke="#000" stroke-width="1.1" />
<line x1="642.8" y1="196.54" x2="647.8" y2="196.54" stroke="#000" stroke-width="1.1" />
<rect x="642.5" y="187.35" width="5.6" height="5.6" fill="#000"/>
<rect x="390.5" y="17.0" width="261.8" height="200.5" fill="none" stroke="#000" stroke-width="1.45"/>
<text x="386.3" y="221.3" font-family="'Liberation Sans', sans-serif" font-size="12.5" fill="#000" text-anchor="end" >6.0</text>
<text x="386.3" y="184.84" font-family="'Liberation Sans', sans-serif" font-size="12.5" fill="#000" text-anchor="end" >6.2</text>
<text x="386.3" y="148.38" font-family="'Liberation Sans', sans-serif" font-size="12.5" fill="#000" text-anchor="end" >6.4</text>
<text x="386.3" y="111.92" font-family="'Liberation Sans', sans-serif" font-size="12.5" fill="#000" text-anchor="end" >6.6</text>
<text x="386.3" y="75.46" font-family="'Liberation Sans', sans-serif" font-size="12.5" fill="#000" text-anchor="end" >6.8</text>
<text x="386.3" y="39" font-family="'Liberation Sans', sans-serif" font-size="12.5" fill="#000" text-anchor="end" >7.0</text>
<text x="396.9" y="231.6" font-family="'Liberation Sans', sans-serif" font-size="12.5" fill="#000" text-anchor="middle" >0.00</text>
<text x="479.7" y="231.6" font-family="'Liberation Sans', sans-serif" font-size="12.5" fill="#000" text-anchor="middle" >0.25</text>
<text x="562.5" y="231.6" font-family="'Liberation Sans', sans-serif" font-size="12.5" fill="#000" text-anchor="middle" >0.50</text>
<text x="645.3" y="231.6" font-family="'Liberation Sans', sans-serif" font-size="12.5" fill="#000" text-anchor="middle" >0.75</text>
<text x="391" y="252.1" font-family="'Liberation Serif', serif" font-size="16.5" fill="#000" textLength="249" lengthAdjust="spacingAndGlyphs" >Ammonia solution concentration [%]</text>
<text x="360" y="112.7" font-family="'Liberation Serif', serif" font-size="18" fill="#000" text-anchor="middle" textLength="99.9" lengthAdjust="spacingAndGlyphs" transform="rotate(-90 360 112.7)" >Power&#160; [watt]</text>
<text x="361.8" y="15.1" font-family="'Liberation Serif', serif" font-size="17" fill="#000" textLength="20.8" lengthAdjust="spacingAndGlyphs" >(b)</text>
<rect x="390.5" y="0" width="0" height="0"/>
<line x1="560.79" y1="113" x2="560.79" y2="111.5" stroke="#000" stroke-width="0.8" />
<line x1="560.79" y1="22.2" x2="560.79" y2="23.5" stroke="#000" stroke-width="0.7" />
<line x1="566.58" y1="113" x2="566.58" y2="111.5" stroke="#000" stroke-width="0.8" />
<line x1="566.58" y1="22.2" x2="566.58" y2="23.5" stroke="#000" stroke-width="0.7" />
<line x1="572.37" y1="113" x2="572.37" y2="111.5" stroke="#000" stroke-width="0.8" />
<line x1="572.37" y1="22.2" x2="572.37" y2="23.5" stroke="#000" stroke-width="0.7" />
<line x1="578.16" y1="113" x2="578.16" y2="110.8" stroke="#000" stroke-width="0.8" />
<line x1="578.16" y1="22.2" x2="578.16" y2="23.5" stroke="#000" stroke-width="0.7" />
<line x1="583.95" y1="113" x2="583.95" y2="111.5" stroke="#000" stroke-width="0.8" />
<line x1="583.95" y1="22.2" x2="583.95" y2="23.5" stroke="#000" stroke-width="0.7" />
<line x1="589.74" y1="113" x2="589.74" y2="111.5" stroke="#000" stroke-width="0.8" />
<line x1="589.74" y1="22.2" x2="589.74" y2="23.5" stroke="#000" stroke-width="0.7" />
<line x1="595.53" y1="113" x2="595.53" y2="111.5" stroke="#000" stroke-width="0.8" />
<line x1="595.53" y1="22.2" x2="595.53" y2="23.5" stroke="#000" stroke-width="0.7" />
<line x1="601.32" y1="113" x2="601.32" y2="110.8" stroke="#000" stroke-width="0.8" />
<line x1="601.32" y1="22.2" x2="601.32" y2="23.5" stroke="#000" stroke-width="0.7" />
<line x1="607.11" y1="113" x2="607.11" y2="111.5" stroke="#000" stroke-width="0.8" />
<line x1="607.11" y1="22.2" x2="607.11" y2="23.5" stroke="#000" stroke-width="0.7" />
<line x1="612.9" y1="113" x2="612.9" y2="111.5" stroke="#000" stroke-width="0.8" />
<line x1="612.9" y1="22.2" x2="612.9" y2="23.5" stroke="#000" stroke-width="0.7" />
<line x1="618.69" y1="113" x2="618.69" y2="111.5" stroke="#000" stroke-width="0.8" />
<line x1="618.69" y1="22.2" x2="618.69" y2="23.5" stroke="#000" stroke-width="0.7" />
<line x1="624.48" y1="113" x2="624.48" y2="110.8" stroke="#000" stroke-width="0.8" />
<line x1="624.48" y1="22.2" x2="624.48" y2="23.5" stroke="#000" stroke-width="0.7" />
<line x1="630.27" y1="113" x2="630.27" y2="111.5" stroke="#000" stroke-width="0.8" />
<line x1="630.27" y1="22.2" x2="630.27" y2="23.5" stroke="#000" stroke-width="0.7" />
<line x1="636.06" y1="113" x2="636.06" y2="111.5" stroke="#000" stroke-width="0.8" />
<line x1="636.06" y1="22.2" x2="636.06" y2="23.5" stroke="#000" stroke-width="0.7" />
<line x1="641.85" y1="113" x2="641.85" y2="111.5" stroke="#000" stroke-width="0.8" />
<line x1="641.85" y1="22.2" x2="641.85" y2="23.5" stroke="#000" stroke-width="0.7" />
<line x1="647.64" y1="113" x2="647.64" y2="110.8" stroke="#000" stroke-width="0.8" />
<line x1="647.64" y1="22.2" x2="647.64" y2="23.5" stroke="#000" stroke-width="0.7" />
<line x1="555.3" y1="108.8" x2="556.9" y2="108.8" stroke="#000" stroke-width="0.8" />
<line x1="648.8" y1="108.8" x2="647.2" y2="108.8" stroke="#000" stroke-width="0.8" />
<line x1="555.3" y1="104.3" x2="556.9" y2="104.3" stroke="#000" stroke-width="0.8" />
<line x1="648.8" y1="104.3" x2="647.2" y2="104.3" stroke="#000" stroke-width="0.8" />
<line x1="555.3" y1="99.8" x2="556.9" y2="99.8" stroke="#000" stroke-width="0.8" />
<line x1="648.8" y1="99.8" x2="647.2" y2="99.8" stroke="#000" stroke-width="0.8" />
<line x1="555.3" y1="95.3" x2="556.9" y2="95.3" stroke="#000" stroke-width="0.8" />
<line x1="648.8" y1="95.3" x2="647.2" y2="95.3" stroke="#000" stroke-width="0.8" />
<line x1="555.3" y1="90.8" x2="557.7" y2="90.8" stroke="#000" stroke-width="0.8" />
<line x1="648.8" y1="90.8" x2="646.4" y2="90.8" stroke="#000" stroke-width="0.8" />
<line x1="555.3" y1="86.3" x2="556.9" y2="86.3" stroke="#000" stroke-width="0.8" />
<line x1="648.8" y1="86.3" x2="647.2" y2="86.3" stroke="#000" stroke-width="0.8" />
<line x1="555.3" y1="81.8" x2="556.9" y2="81.8" stroke="#000" stroke-width="0.8" />
<line x1="648.8" y1="81.8" x2="647.2" y2="81.8" stroke="#000" stroke-width="0.8" />
<line x1="555.3" y1="77.3" x2="556.9" y2="77.3" stroke="#000" stroke-width="0.8" />
<line x1="648.8" y1="77.3" x2="647.2" y2="77.3" stroke="#000" stroke-width="0.8" />
<line x1="555.3" y1="72.8" x2="556.9" y2="72.8" stroke="#000" stroke-width="0.8" />
<line x1="648.8" y1="72.8" x2="647.2" y2="72.8" stroke="#000" stroke-width="0.8" />
<line x1="555.3" y1="68.3" x2="557.7" y2="68.3" stroke="#000" stroke-width="0.8" />
<line x1="648.8" y1="68.3" x2="646.4" y2="68.3" stroke="#000" stroke-width="0.8" />
<line x1="555.3" y1="63.8" x2="556.9" y2="63.8" stroke="#000" stroke-width="0.8" />
<line x1="648.8" y1="63.8" x2="647.2" y2="63.8" stroke="#000" stroke-width="0.8" />
<line x1="555.3" y1="59.3" x2="556.9" y2="59.3" stroke="#000" stroke-width="0.8" />
<line x1="648.8" y1="59.3" x2="647.2" y2="59.3" stroke="#000" stroke-width="0.8" />
<line x1="555.3" y1="54.8" x2="556.9" y2="54.8" stroke="#000" stroke-width="0.8" />
<line x1="648.8" y1="54.8" x2="647.2" y2="54.8" stroke="#000" stroke-width="0.8" />
<line x1="555.3" y1="50.3" x2="556.9" y2="50.3" stroke="#000" stroke-width="0.8" />
<line x1="648.8" y1="50.3" x2="647.2" y2="50.3" stroke="#000" stroke-width="0.8" />
<line x1="555.3" y1="45.8" x2="557.7" y2="45.8" stroke="#000" stroke-width="0.8" />
<line x1="648.8" y1="45.8" x2="646.4" y2="45.8" stroke="#000" stroke-width="0.8" />
<line x1="555.3" y1="41.3" x2="556.9" y2="41.3" stroke="#000" stroke-width="0.8" />
<line x1="648.8" y1="41.3" x2="647.2" y2="41.3" stroke="#000" stroke-width="0.8" />
<line x1="555.3" y1="36.8" x2="556.9" y2="36.8" stroke="#000" stroke-width="0.8" />
<line x1="648.8" y1="36.8" x2="647.2" y2="36.8" stroke="#000" stroke-width="0.8" />
<line x1="555.3" y1="32.3" x2="556.9" y2="32.3" stroke="#000" stroke-width="0.8" />
<line x1="648.8" y1="32.3" x2="647.2" y2="32.3" stroke="#000" stroke-width="0.8" />
<line x1="555.3" y1="27.8" x2="556.9" y2="27.8" stroke="#000" stroke-width="0.8" />
<line x1="648.8" y1="27.8" x2="647.2" y2="27.8" stroke="#000" stroke-width="0.8" />
<polygon points="564,99.8 568.1,94.2 574.8,87.4 581.5,80.7 588.9,72 592.7,66.8 600.3,62.5 608,59.5 612.6,57.8 614.1,51.5 618.7,50 628.4,47.7 641.1,44.4 637.8,49.8 632.4,56.5 623,63.8 615,69.9 608.5,74.6 605.9,76.2 603,79.6 601.1,82.5 599.7,84.9 595.3,86.3 590.5,87.7 587.2,90.1 585.3,95 573.4,97.5" fill="none" stroke="#000" stroke-width="1.1" stroke-linejoin="round" />
<polygon points="564,91.7 567.4,88.8 572.1,84.1 574.8,80.1 578.1,78.1 581.5,76.7 588.9,70.7 592.7,67.5 600.3,63.2 608,60.3 612.6,58.5 615.6,53.8 628.4,50 640.5,48.1 636.5,53.8 634.4,57.1 623,65.2 615.6,71.4 610,73.4 605.9,75.8 603,78.1 600.6,79.6 596.3,81 592.5,82 591,83.4 589.6,87.3 585.8,88.7 580,89.7 573.4,90.8" fill="none" stroke="#f0f" stroke-width="1.1" stroke-linejoin="round" />
<rect x="555.3" y="22.2" width="93.5" height="90.8" fill="none" stroke="#000" stroke-width="1.0"/>
<line x1="557.8" y1="27.9" x2="572.1" y2="27.9" stroke="#000" stroke-width="1.1" />
<line x1="557.8" y1="43.3" x2="572.1" y2="43.3" stroke="#f0f" stroke-width="1.1" />
<text x="573" y="30.5" font-family="'Liberation Serif', serif" font-size="10.5" fill="#000" >Ar/H<tspan font-size="7.5" dy="4">2</tspan><tspan dy="-4">O</tspan></text>
<text x="573" y="46" font-family="'Liberation Serif', serif" font-size="10.2" fill="#000" >Ar/NH<tspan font-size="7.5" dy="4">3</tspan><tspan dy="-4"> (c.0.5%)</tspan></text>
<text x="551.3" y="27.7" font-family="'Liberation Serif', serif" font-size="13" fill="#000" text-anchor="end" >50</text>
<text x="551.3" y="50.2" font-family="'Liberation Serif', serif" font-size="13" fill="#000" text-anchor="end" >25</text>
<text x="551.3" y="72.7" font-family="'Liberation Serif', serif" font-size="13" fill="#000" text-anchor="end" >0</text>
<text x="551.3" y="95.2" font-family="'Liberation Serif', serif" font-size="13" fill="#000" text-anchor="end" >-25</text>
<text x="551.3" y="117.7" font-family="'Liberation Serif', serif" font-size="13" fill="#000" text-anchor="end" >-50</text>
<text x="555" y="129" font-family="'Liberation Serif', serif" font-size="13" fill="#000" text-anchor="middle" >-8</text>
<text x="578.16" y="129" font-family="'Liberation Serif', serif" font-size="13" fill="#000" text-anchor="middle" >-4</text>
<text x="601.32" y="129" font-family="'Liberation Serif', serif" font-size="13" fill="#000" text-anchor="middle" >0</text>
<text x="624.48" y="129" font-family="'Liberation Serif', serif" font-size="13" fill="#000" text-anchor="middle" >4</text>
<text x="647.64" y="129" font-family="'Liberation Serif', serif" font-size="13" fill="#000" text-anchor="middle" >8</text>
<text x="598.8" y="141.8" font-family="'Liberation Sans', sans-serif" font-size="12" fill="#000" text-anchor="middle" textLength="98" lengthAdjust="spacingAndGlyphs" >Discharge voltage</text>
<text x="600" y="156" font-family="'Liberation Sans', sans-serif" font-size="12" fill="#000" text-anchor="middle" >[kV]</text>
<text x="526.8" y="67.7" font-family="'Liberation Sans', sans-serif" font-size="12.3" fill="#000" text-anchor="middle" textLength="69" lengthAdjust="spacingAndGlyphs" transform="rotate(-90 526.8 67.7)" >Charge&#160; [nC]</text>
</svg>
</body></html>
